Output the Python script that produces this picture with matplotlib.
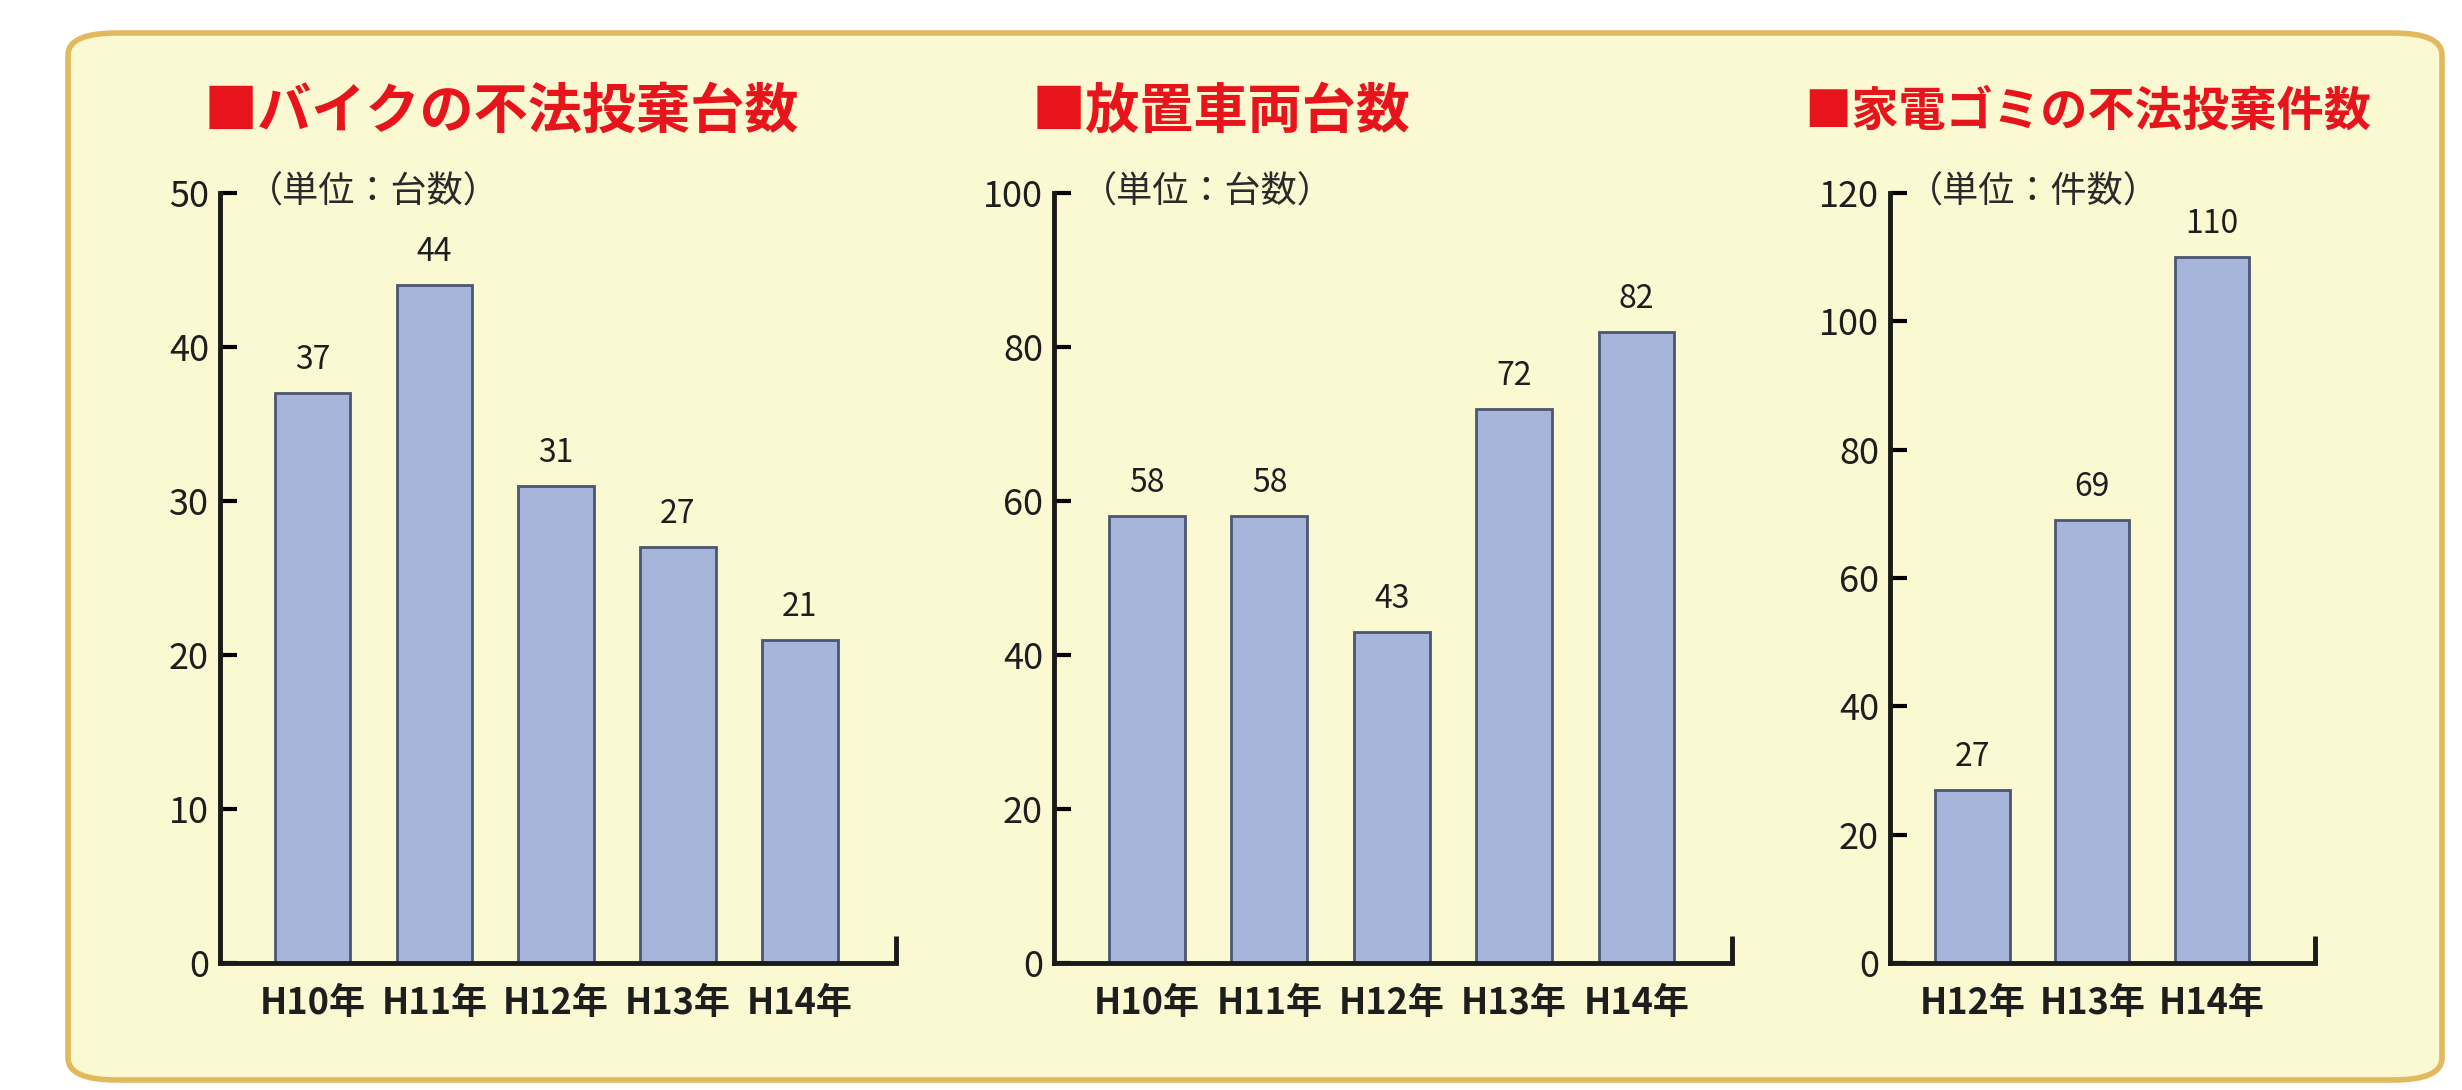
import numpy as np
import matplotlib.pyplot as plt
from matplotlib.patches import FancyBboxPatch

plt.rcParams['font.family'] = ['Noto Sans CJK JP', 'DejaVu Sans']

# data
bike_years = ['H10年', 'H11年', 'H12年', 'H13年', 'H14年']
bike_vals = [37, 44, 31, 27, 21]
car_years = ['H10年', 'H11年', 'H12年', 'H13年', 'H14年']
car_vals = [58, 58, 43, 72, 82]
kaden_years = ['H12年', 'H13年', 'H14年']
kaden_vals = [27, 69, 110]

titles = ['■バイクの不法投棄台数', '■放置車両台数', '■家電ゴミの不法投棄件数']
units = ['（単位：台数）', '（単位：台数）', '（単位：件数）']

W, H = 2462, 1090
fig = plt.figure(figsize=(W / 100, H / 100), dpi=100)
fig.patch.set_facecolor('white')

# yellow panel behind everything
panel = FancyBboxPatch((68 / W, 1 - 1080 / H), (2442 - 68) / W, (1080 - 33) / H,
                       boxstyle='round,pad=0,rounding_size=0.02',
                       transform=fig.transFigure, facecolor='#fbf9d2',
                       edgecolor='#e2b95c', linewidth=4, zorder=-10)
fig.add_artist(panel)

bar_c = '#a8b5da'
edge_c = '#4b5672'
bottom = 1 - 963 / H
height = (963 - 193) / H

specs = [
    # left px, right px, xlim, ymax, step, title x px, title size
    (220, 896, (-0.76, 4.79), 50, 10, 204, 39),
    (1054, 1732, (-0.76, 4.78), 100, 20, 1032, 39),
    (1890, 2315, (-0.69, 2.86), 120, 20, 1804, 34),
]
datasets = [(bike_years, bike_vals), (car_years, car_vals), (kaden_years, kaden_vals)]

for (lp, rp, xl, ymax, step, tx, tsize), (cats, vals), title, unit in zip(specs, datasets, titles, units):
    ax = fig.add_axes([lp / W, bottom, (rp - lp) / W, height])
    ax.set_facecolor('none')
    x = np.arange(len(cats))
    ax.bar(x, vals, width=0.62, color=bar_c, edgecolor=edge_c, linewidth=2, zorder=2)
    for xi, v in zip(x, vals):
        ax.text(xi, v + ymax * 0.022, str(v), ha='center', va='bottom',
                fontsize=23, color='#1e1e1e')
    ax.set_xlim(*xl)
    ax.set_ylim(0, ymax)
    ax.set_yticks(np.arange(0, ymax + 1, step))
    ax.set_xticks(x)
    ax.set_xticklabels(cats, fontsize=26, fontweight='bold', color='#1e1e1e')
    ax.tick_params(axis='y', direction='in', length=12, width=3, pad=8,
                   labelsize=26, labelcolor='#1e1e1e')
    ax.tick_params(axis='x', length=0, pad=16)
    for s in ['top', 'right']:
        ax.spines[s].set_visible(False)
    for s in ['left', 'bottom']:
        ax.spines[s].set_linewidth(3.5)
        ax.spines[s].set_color('#1a1a1a')
    # small upturn at the right end of the base line
    ax.plot([1, 1], [0, 0.035], transform=ax.transAxes, color='#1a1a1a',
            lw=3.5, clip_on=False, solid_capstyle='butt')
    ax.text(0.04, 1.0, unit, transform=ax.transAxes, ha='left', va='center',
            fontsize=26, color='#2a2a2a')
    fig.text(tx / W, 1 - 112 / H, title, ha='left', va='center',
             fontsize=tsize, fontweight='bold', color='#e8141c')

fig.savefig('out.png', dpi=100)
